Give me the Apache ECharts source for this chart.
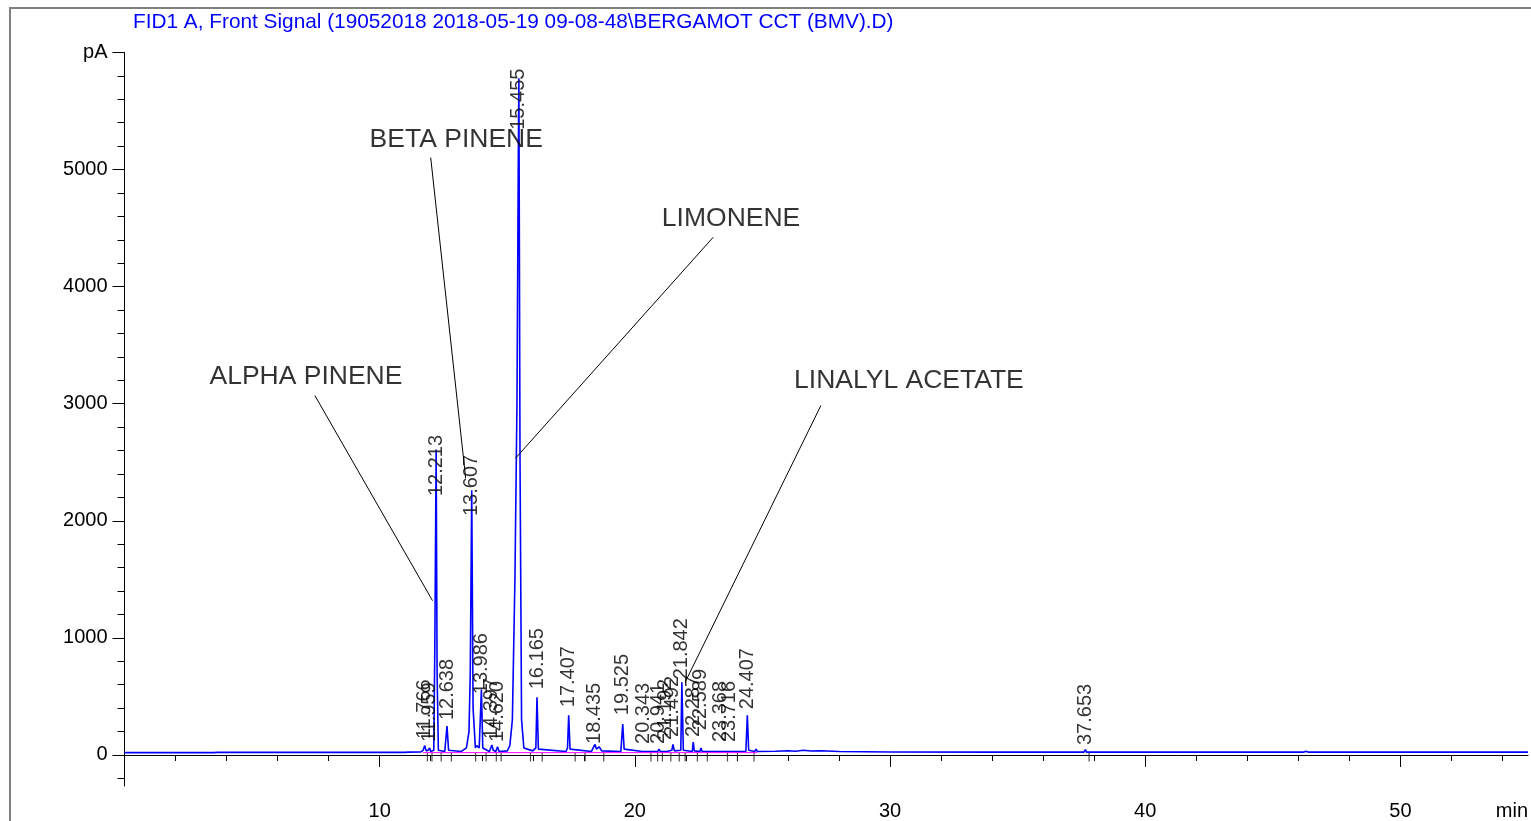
<!DOCTYPE html>
<html>
<head>
<meta charset="utf-8">
<script src="https://cdn.jsdelivr.net/npm/echarts@6/dist/echarts.min.js"></script>
<style>
    html, body { margin: 0; padding: 0; background: #fff; }
    #chroma { width: 1531px; height: 821px; }
</style>
</head>
<body>
<div id="chroma"></div>
<script>
// signal trace: time (min) / signal (pA)
const traceTime = [0, 3.5, 3.55, 3.62, 9.8, 9.85, 9.9, 11.0, 11.05, 11.1, 11.6, 11.7, 11.766, 11.82, 11.9, 11.959, 12.0,
    12.12, 12.16, 12.213, 12.25, 12.3, 12.55, 12.638, 12.7, 13.2, 13.4, 13.5, 13.55, 13.607, 13.66, 13.75, 13.8, 13.9,
    13.986, 14.04, 14.3, 14.397, 14.45, 14.55, 14.62, 14.68, 15.0, 15.1, 15.2, 15.3, 15.38, 15.43, 15.455, 15.5, 15.56,
    15.65, 16.0, 16.12, 16.165, 16.22, 17.3, 17.36, 17.407, 17.46, 18.3, 18.435, 18.5, 18.6, 18.7, 19.45, 19.525, 19.58,
    20.3, 20.343, 20.4, 20.9, 20.941, 21.0, 21.15, 21.192, 21.25, 21.45, 21.492, 21.55, 21.8, 21.842, 21.9, 22.25, 22.287,
    22.33, 22.55, 22.589, 22.64, 23.33, 23.368, 23.41, 23.68, 23.716, 23.76, 24.35, 24.407, 24.46, 24.7, 24.75, 24.8,
    25.5, 26.0, 26.3, 26.6, 26.9, 27.3, 28.0, 30.0, 34.0, 37.6, 37.653, 37.7, 46.2, 46.3, 46.4, 55];
const traceSignal = [20, 20, 35, 22, 22, 30, 22, 22, 30, 24, 25, 40, 80, 35, 40, 60, 30,
    40, 900, 2610, 700, 40, 30, 246, 40, 30, 60, 200, 700, 2261, 400, 60, 80, 60,
    560, 60, 30, 85, 40, 30, 70, 30, 35, 80, 300, 1500, 3000, 5000, 5780, 2500, 300,
    60, 35, 60, 493, 50, 30, 60, 340, 50, 30, 90, 50, 70, 35, 30, 264, 50,
    30, 45, 30, 30, 50, 30, 30, 45, 30, 40, 90, 35, 40, 621, 40, 30, 110,
    35, 30, 60, 30, 30, 40, 30, 30, 40, 30, 30, 340, 40, 30, 50, 30,
    32, 36, 32, 40, 34, 36, 30, 26, 24, 24, 45, 24, 24, 32, 24, 24];

// retention time labels and the signal where each label starts
const peakTimes = [11.766, 11.959, 12.213, 12.638, 13.607, 13.986, 14.397, 14.620, 15.455, 16.165, 17.407, 18.435,
    19.525, 20.343, 20.941, 21.192, 21.492, 21.842, 22.287, 22.589, 23.368, 23.716, 24.407, 37.653];
const peakLabelPa = [136, 110, 2211, 298, 2041, 519, 136, 110, 5340, 561, 408, 94,
    340, 94, 94, 128, 153, 646, 153, 212, 110, 110, 391, 85];

// integration marks below the baseline
const markTimes = [11.87, 12.05, 12.41, 12.81, 13.76, 14.17, 14.57, 14.76, 15.91, 16.37, 17.66, 18.05, 18.78,
    20.63, 20.89, 21.08, 21.41, 21.74, 21.97, 22.45, 22.84, 23.63, 24.02, 24.67, 37.8];
const integStart = 11.7;
const integEnd = 24.8;
const integLevel = 20;

// compound annotations
const compoundNames = ['ALPHA PINENE', 'BETA PINENE', 'LIMONENE', 'LINALYL ACETATE'];
const compoundTextAt = [[7.11, 3231], [13.0, 5255], [23.77, 4583], [30.74, 3197]];
const pointerFrom = [[7.46, 3070], [12.0, 5102], [23.07, 4422], [27.29, 2985]];
const pointerTo = [[12.07, 1318], [13.37, 2364], [15.32, 2534], [21.97, 621]];

// axis ticks
const xLabelValues = [10, 20, 30, 40, 50, 55];
const xMajorTicks = [10, 20, 30, 40, 50];
const xMinorTicks = [2, 4, 6, 8, 12, 14, 16, 18, 22, 24, 26, 28, 32, 34, 36, 38, 42, 44, 46, 48, 52, 54];
const yMajorTicks = [0, 1000, 2000, 3000, 4000, 5000, 6000];
const yMinorTicks = [-200, 200, 400, 600, 800, 1200, 1400, 1600, 1800, 2200, 2400, 2600, 2800, 3200, 3400, 3600,
    3800, 4200, 4400, 4600, 4800, 5200, 5400, 5600, 5800];

const FONT = 'Liberation Sans';
const chart = echarts.init(document.getElementById('chroma'));

const trace = traceTime.map((t, i) => [t, traceSignal[i]]);
const labels = peakTimes.map((t, i) => ({ name: t.toFixed(3), value: [t, peakLabelPa[i]] }));
const marks = markTimes.map(t => [t, 0]);
const notes = compoundNames.map((n, i) => ({ name: n, value: compoundTextAt[i] }));
const pointers = pointerFrom.map((p, i) => ({ coords: [p, pointerTo[i]] }));

chart.setOption({
    animation: false,
    title: {
        text: 'FID1 A, Front Signal (19052018 2018-05-19 09-08-48\\BERGAMOT CCT (BMV).D)',
        left: 133,
        top: 12,
        padding: 0,
        textStyle: { color: '#0000ff', fontSize: 20.8, fontWeight: 'normal', fontFamily: FONT }
    },
    graphic: [{
        type: 'rect',
        shape: { x: 10, y: 8, width: 1530, height: 830 },
        style: { fill: 'none', stroke: '#808080', lineWidth: 2 },
        silent: true
    }],
    grid: { left: 124.5, right: 1, top: 52.5, bottom: 32.1 },
    xAxis: [{
        type: 'value', min: 0, max: 55,
        axisLine: { lineStyle: { color: '#000', width: 1 } },
        axisTick: { customValues: xMajorTicks, length: 12, lineStyle: { color: '#000' } },
        axisLabel: {
            customValues: xLabelValues, margin: 15, color: '#000', fontSize: 20, fontFamily: FONT,
            alignMaxLabel: 'right',
            formatter: v => v === 55 ? 'min' : String(v)
        },
        splitLine: { show: false }
    }, {
        type: 'value', min: 0, max: 55, position: 'bottom',
        axisLine: { show: false },
        axisTick: { customValues: xMinorTicks, length: 6, lineStyle: { color: '#000' } },
        axisLabel: { show: false },
        splitLine: { show: false }
    }],
    yAxis: [{
        type: 'value', min: -265, max: 6000,
        axisLine: { show: true, lineStyle: { color: '#000', width: 1 } },
        axisTick: { show: true, customValues: yMajorTicks, length: 12, lineStyle: { color: '#000' } },
        axisLabel: {
            customValues: yMajorTicks, margin: 17, color: '#000', fontSize: 20, fontFamily: FONT,
            formatter: v => v === 6000 ? 'pA' : String(v)
        },
        splitLine: { show: false }
    }, {
        type: 'value', min: -265, max: 6000, position: 'left',
        axisLine: { show: false },
        axisTick: { show: true, customValues: yMinorTicks, length: 7, lineStyle: { color: '#000' } },
        axisLabel: { show: false },
        splitLine: { show: false }
    }],
    series: [{
        name: 'FID1 A',
        type: 'line',
        data: trace,
        showSymbol: false,
        symbol: 'none',
        lineStyle: { color: '#0000ff', width: 1.6 },
        z: 3
    }, {
        name: 'baseline',
        type: 'line',
        data: [[integStart, integLevel], [integEnd, integLevel]],
        symbol: 'none',
        lineStyle: { color: '#ff00ff', width: 1 },
        z: 4
    }, {
        name: 'marks',
        type: 'scatter',
        data: marks,
        symbol: 'rect',
        symbolSize: [1.2, 9],
        symbolOffset: [0, 2],
        itemStyle: { color: '#222' },
        z: 2
    }, {
        name: 'rt',
        type: 'scatter',
        data: labels,
        symbolSize: 1,
        itemStyle: { color: 'transparent' },
        label: {
            show: true, position: 'inside', rotate: 90, align: 'left', verticalAlign: 'middle',
            color: '#000', fontSize: 20, fontFamily: FONT, textBorderWidth: 0,
            formatter: p => p.name
        },
        z: 5
    }, {
        name: 'pointers',
        type: 'lines',
        coordinateSystem: 'cartesian2d',
        data: pointers,
        lineStyle: { color: '#000', width: 1, opacity: 1 },
        z: 5
    }, {
        name: 'compounds',
        type: 'scatter',
        data: notes,
        symbolSize: 1,
        itemStyle: { color: 'transparent' },
        label: {
            show: true, position: 'inside', align: 'center', verticalAlign: 'middle',
            color: '#000', fontSize: 26.5, fontFamily: FONT, textBorderWidth: 0,
            formatter: p => p.name
        },
        z: 5
    }]
});
</script>
</body>
</html>
